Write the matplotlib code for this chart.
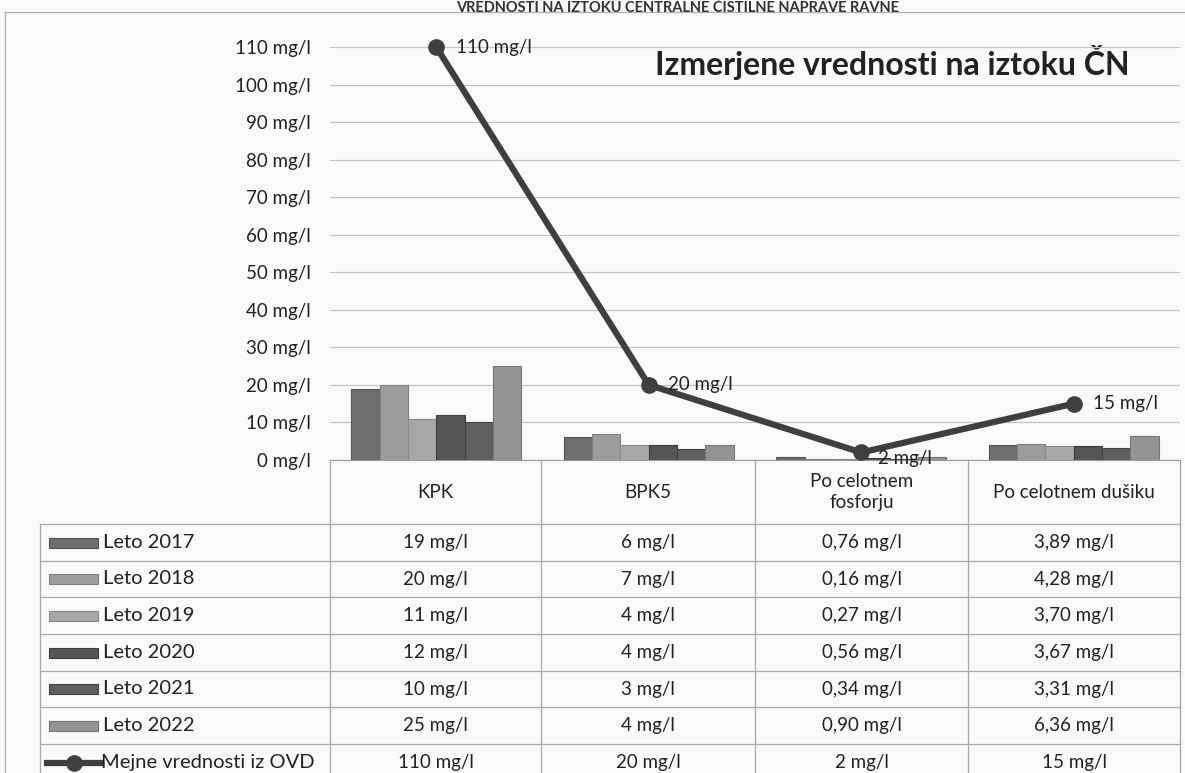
import matplotlib
matplotlib.use("Agg")
import matplotlib.pyplot as plt
from matplotlib.patches import Rectangle
from matplotlib.lines import Line2D

plt.rcParams["font.family"] = ["Lato", "DejaVu Sans"]

# data
categories = ["KPK", "BPK5", "Po celotnem\nfosforju", "Po celotnem dušiku"]
years = ["Leto 2017", "Leto 2018", "Leto 2019", "Leto 2020", "Leto 2021", "Leto 2022"]
leto_2017 = [19, 6, 0.76, 3.89]
leto_2018 = [20, 7, 0.16, 4.28]
leto_2019 = [11, 4, 0.27, 3.70]
leto_2020 = [12, 4, 0.56, 3.67]
leto_2021 = [10, 3, 0.34, 3.31]
leto_2022 = [25, 4, 0.90, 6.36]
limits = [110, 20, 2, 15]
limit_label = "Mejne vrednosti iz OVD"
decimals = [0, 0, 2, 2]
yticks = list(range(0, 111, 10))

series = [leto_2017, leto_2018, leto_2019, leto_2020, leto_2021, leto_2022]
colors = ["#6e6e6e", "#9c9c9c", "#a8a8a8", "#555555", "#5f5f5f", "#949494"]
edges = ["#555555", "#808080", "#8a8a8a", "#3c3c3c", "#444444", "#777777"]
line_col = "#3f3f3f"
grid_col = "#c4c4c4"
bg = "#f9fafc"


def fmt(v, d):
    return f"{v:.{d}f}".replace(".", ",") + " mg/l"


W, H = 1185, 773
fig = plt.figure(figsize=(W / 100, H / 100), dpi=100, facecolor=bg)

# overlay in pixel coordinates for the data table
ov = fig.add_axes([0, 0, 1, 1], zorder=0)
ov.set_xlim(0, W)
ov.set_ylim(H, 0)
ov.axis("off")

# chart area
x0, x1, ytop, ybot = 330, 1180, 47, 460
ax = fig.add_axes([x0 / W, (H - ybot) / H, (x1 - x0) / W, (ybot - ytop) / H], zorder=1)
ax.patch.set_alpha(0)
ax.set_xlim(-0.5, len(categories) - 0.5)
ax.set_ylim(0, 110)

n = len(series)
bw = 0.8 / n
for i, vals in enumerate(series):
    xs = [c - 0.4 + bw * (i + 0.5) for c in range(len(categories))]
    ax.bar(xs, vals, width=bw, color=colors[i], edgecolor=edges[i], linewidth=0.8)

ax.set_yticks(yticks)
ax.set_yticklabels([f"{v} mg/l" for v in yticks], fontsize=13.5, color="#222222")
ax.tick_params(axis="y", length=0, pad=14)
ax.set_xticks([])
ax.yaxis.grid(True, color=grid_col, linewidth=0.9)
ax.set_axisbelow(True)
for s in ["top", "right", "left"]:
    ax.spines[s].set_visible(False)
ax.spines["bottom"].set_color("#9a9a9a")

xc = list(range(len(categories)))
ax.plot(xc, limits, color=line_col, linewidth=4.5, marker="o", markersize=11,
        markerfacecolor=line_col, markeredgecolor=line_col, clip_on=False, zorder=5)
offsets = [(14, 0), (14, 0), (12, -4), (14, 0)]
for x, v, off in zip(xc, limits, offsets):
    ax.annotate(fmt(v, 0), (x, v), xytext=off, textcoords="offset points",
                ha="left", va="center", fontsize=13.5, color="#222222", zorder=6)

ov.text(1130, 62, "Izmerjene vrednosti na iztoku ČN", ha="right", va="center",
        fontsize=23, fontweight="bold", color="#222222")

# heading at the very top
ov.text(678, 0.5, "VREDNOSTI NA IZTOKU CENTRALNE ČISTILNE NAPRAVE RAVNE", ha="center",
        va="top", fontsize=10.5, fontweight="bold", color="#333333")

# outer frame
ov.add_line(Line2D([5, W], [12, 12], color="#b0b0b0", linewidth=0.9))
ov.add_line(Line2D([5, 5], [12, H], color="#b0b0b0", linewidth=0.9))

# table
cols = [x0, 541, 755, 968, x1]
rows = [524, 561, 597, 634, 671, 707, 744, 781]
tcol = "#a8a8a8"
for cx in cols:
    ov.add_line(Line2D([cx, cx], [ybot, H], color=tcol, linewidth=0.9))
ov.add_line(Line2D([40, 40], [rows[0], H], color=tcol, linewidth=0.9))
for ry in rows[:-1]:
    ov.add_line(Line2D([40, x1], [ry, ry], color=tcol, linewidth=0.9))

centers = [(cols[j] + cols[j + 1]) / 2 for j in range(len(categories))]
for cxm, name in zip(centers, categories):
    ov.text(cxm, 492, name, ha="center", va="center", fontsize=13.5,
            color="#222222", linespacing=1.3)

for i, vals in enumerate(series):
    yc = (rows[i] + rows[i + 1]) / 2
    ov.add_patch(Rectangle((49, yc - 5), 49, 10, facecolor=colors[i],
                           edgecolor=edges[i], linewidth=0.8))
    ov.text(103, yc, years[i], ha="left", va="center", fontsize=14.5, color="#222222")
    for cxm, v, d in zip(centers, vals, decimals):
        ov.text(cxm, yc, fmt(v, d), ha="center", va="center", fontsize=13.5, color="#222222")

yc = (rows[6] + rows[7]) / 2
ov.add_line(Line2D([47, 101], [yc, yc], color=line_col, linewidth=4.5))
ov.plot([74], [yc], marker="o", markersize=11, color=line_col)
ov.text(101, yc, limit_label, ha="left", va="center", fontsize=14.5, color="#222222")
for cxm, v in zip(centers, limits):
    ov.text(cxm, yc, fmt(v, 0), ha="center", va="center", fontsize=13.5, color="#222222")

fig.savefig("out.png", dpi=100, facecolor=bg)
